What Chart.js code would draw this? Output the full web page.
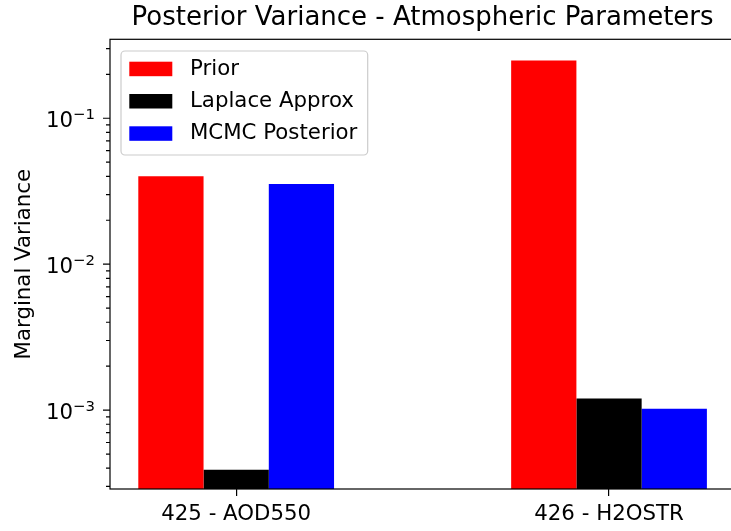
<!DOCTYPE html>
<html><head><meta charset="utf-8">
<script src="https://cdn.jsdelivr.net/npm/chart.js@4/dist/chart.umd.min.js"></script>
<style>
html,body{margin:0;padding:0;overflow:hidden;background:#fff;width:731px;height:531px}
#wrap{position:absolute;left:0;top:0;width:740px;height:531px}
</style>
</head><body><div id="wrap"><canvas id="c"></canvas></div>
<script>
const categories = ['425 - AOD550', '426 - H2OSTR'];
const seriesNames = ['Prior', 'Laplace Approx', 'MCMC Posterior'];
const priorValues = [0.0400, 0.249];
const laplaceValues = [0.00039, 0.0012];
const mcmcValues = [0.0355, 0.00102];
const seriesColors = ['#ff0000', '#000000', '#0000ff'];
const yTickValues = [0.001, 0.01, 0.1];
const yTickBase = '10';
const yTickExponents = ['−3', '−2', '−1'];
const yMin = 2.88e-4, yMax = 0.3475;
const xMin = -0.3384, xMax = 1.3384;

const FONT = 'DejaVu Sans';
const seriesValues = [priorValues, laplaceValues, mcmcValues];

const decor = {
  id: 'decor',
  afterDatasetsDraw(chart) {
    const {ctx, chartArea: a, scales: {y}} = chart;
    ctx.save();
    ctx.strokeStyle = '#000';
    ctx.lineWidth = 1.2;
    ctx.beginPath();
    for (let d = -5; d <= 0; d++) {
      for (let k = 1; k <= 9; k++) {
        const v = k * Math.pow(10, d);
        if (v < y.min || v > y.max) continue;
        const py = y.getPixelForValue(v);
        const len = k === 1 ? 7 : 4;
        ctx.moveTo(a.left, py);
        ctx.lineTo(a.left - len, py);
      }
    }
    ctx.stroke();
    ctx.strokeRect(a.left, a.top, a.right - a.left, a.bottom - a.top);

    // y tick labels (mathtext-like 10^n)
    ctx.fillStyle = '#000';
    ctx.textBaseline = 'alphabetic';
    ctx.textAlign = 'right';
    yTickValues.forEach((v, i) => {
      const py = y.getPixelForValue(v);
      const xr = a.left - 15;
      ctx.font = '14.9px "' + FONT + '"';
      const ew = ctx.measureText(yTickExponents[i]).width;
      ctx.fillText(yTickExponents[i], xr, py + 0.8);
      ctx.font = '21.3px "' + FONT + '"';
      ctx.fillText(yTickBase, xr - ew, py + 9);
    });

    // legend
    const x0 = a.left + 11, y0 = a.top + 11.7, w = 246.7, h = 104, r = 4;
    ctx.beginPath();
    ctx.moveTo(x0 + r, y0);
    ctx.arcTo(x0 + w, y0, x0 + w, y0 + h, r);
    ctx.arcTo(x0 + w, y0 + h, x0, y0 + h, r);
    ctx.arcTo(x0, y0 + h, x0, y0, r);
    ctx.arcTo(x0, y0, x0 + w, y0, r);
    ctx.closePath();
    ctx.fillStyle = 'rgba(255,255,255,0.8)';
    ctx.fill();
    ctx.strokeStyle = '#cccccc';
    ctx.lineWidth = 1.2;
    ctx.stroke();
    ctx.font = '21.3px "' + FONT + '"';
    ctx.textBaseline = 'middle';
    ctx.textAlign = 'left';
    chart.data.datasets.forEach((ds, i) => {
      const sy = y0 + 10.7 + i * 32.3;
      ctx.fillStyle = ds.backgroundColor;
      ctx.fillRect(x0 + 8.3, sy, 43, 14.5);
      ctx.fillStyle = '#000';
      ctx.fillText(ds.label, x0 + 69, sy + 7.5);
    });
    ctx.restore();
  }
};

new Chart(document.getElementById('c'), {
  type: 'bar',
  data: {
    datasets: seriesNames.map((name, s) => ({
      label: name,
      data: seriesValues[s].map((v, i) => ({x: i, y: v})),
      backgroundColor: seriesColors[s],
      borderWidth: 0
    }))
  },
  options: {
    responsive: true,
    maintainAspectRatio: false,
    animation: false,
    layout: {padding: {left: 0, right: 4.8, top: 0, bottom: 0}},
    datasets: {bar: {categoryPercentage: 0.525, barPercentage: 1.0}},
    plugins: {
      legend: {display: false},
      tooltip: {enabled: false},
      title: {
        display: true,
        text: 'Posterior Variance - Atmospheric Parameters',
        fullSize: false,
        color: '#000',
        font: {family: FONT, size: 26, weight: 'normal'},
        padding: {top: 2.4, bottom: 5.7}
      }
    },
    scales: {
      x: {
        type: 'linear', min: xMin, max: xMax, offset: false,
        afterBuildTicks: s => { s.ticks = categories.map((c, i) => ({value: i})); },
        ticks: {
          callback: v => categories[v] ?? '',
          color: '#000', font: {family: FONT, size: 21.3},
          padding: 6, maxRotation: 0, autoSkip: false
        },
        grid: {display: true, offset: false, drawOnChartArea: false, drawTicks: true, tickLength: 7, color: '#000', lineWidth: 1.2},
        border: {display: false},
        afterFit: s => { s.height = 42; }
      },
      y: {
        type: 'logarithmic', min: yMin, max: yMax, beginAtZero: false,
        afterBuildTicks: s => { s.ticks = yTickValues.map(v => ({value: v})); },
        ticks: {display: false},
        grid: {display: false, drawTicks: false},
        border: {display: false},
        title: {display: true, text: 'Marginal Variance', color: '#000', font: {family: FONT, size: 21.3}, padding: {top: 12, bottom: 0}},
        afterFit: s => { s.width = 110; }
      }
    }
  },
  plugins: [decor]
});
</script>
</body></html>
